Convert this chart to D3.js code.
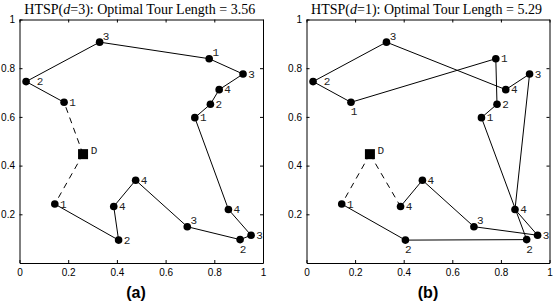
<!DOCTYPE html>
<html><head><meta charset="utf-8">
<script src="https://cdn.jsdelivr.net/npm/d3@7"></script>
<style>body{margin:0;background:#fff}svg{display:block}</style>
</head><body>
<svg id="chart" width="553" height="305"></svg>
<script>
// ---- data ----
const cityX = [0.145,0.407,0.387,0.477,0.689,0.906,0.951,0.858,0.720,0.784,0.820,0.918,0.779,0.329,0.027,0.183];
const cityY = [0.242,0.094,0.232,0.340,0.149,0.096,0.114,0.220,0.597,0.652,0.712,0.776,0.839,0.907,0.745,0.660];
const cityLabel = ["1","2","4","4","3","2","3","4","1","2","4","3","1","3","2","1"];
const depot = {x:0.261, y:0.447, label:"D"};
// tours: city indices (0-based), starting and ending at depot
const tourA = [15,14,13,12,11,10,9,8,7,6,5,4,3,2,1,0];
const tourB = [0,1,5,8,9,12,15,14,13,10,11,7,6,4,3,2];
const titleA = {pre:"HTSP(", d:"d", post:"=3): Optimal Tour Length = 3.56"};
const titleB = {pre:"HTSP(", d:"d", post:"=1): Optimal Tour Length = 5.29"};
const panelNames = ["(a)","(b)"];
const xTicks = [0,0.2,0.4,0.6,0.8,1];
const xTickLabels = ["0","0.2","0.4","0.6","0.8","1"];
const yTicks = [0.2,0.4,0.6,0.8,1];
const yTickLabels = ["0.2","0.4","0.6","0.8","1"];
// label placement (style): e = east, ne = north-east, s = south, ee = far east
const placeA = ["e","e","e","e","ne","s","e","e","e","e","e","e","ne","ne","ee","e"];
const placeB = ["e","s","e","e","ne","s","e","e","e","e","e","e","e","ne","ee","s"];

const off = {e:[8.5,0.5], ne:[6.5,-5.5], s:[3,10], ee:[14,0.5]};
const svg = d3.select("#chart");

function panel(xr, tour, title, name, place, nameX){
  const x = d3.scaleLinear().domain([0,1]).range(xr);
  const y = d3.scaleLinear().domain([0,1]).range([263,19.5]);
  const g = svg.append("g");
  const fmtX = d => xTickLabels[xTicks.indexOf(d)];
  const fmtY = d => yTickLabels[yTicks.indexOf(d)];
  const styleAxis = a => { a.selectAll("path").attr("stroke","#000").attr("stroke-width",1);
    a.selectAll("line").attr("stroke","#000");
    a.selectAll("text").attr("font-family","Liberation Sans, Arial, sans-serif").attr("font-size",10).attr("fill","#000"); };
  g.append("g").attr("transform","translate(0,263)")
    .call(d3.axisBottom(x).tickValues(xTicks).tickFormat(fmtX).tickSizeInner(-3).tickSizeOuter(0).tickPadding(6)).call(styleAxis);
  g.append("g").attr("transform","translate(0,19.5)")
    .call(d3.axisTop(x).tickValues(xTicks).tickFormat("").tickSizeInner(-3).tickSizeOuter(0)).call(styleAxis);
  g.append("g").attr("transform",`translate(${xr[0]},0)`)
    .call(d3.axisLeft(y).tickValues(yTicks).tickFormat(fmtY).tickSizeInner(-3).tickSizeOuter(0).tickPadding(4.5)).call(styleAxis);
  g.append("g").attr("transform",`translate(${xr[1]},0)`)
    .call(d3.axisRight(y).tickValues([0.2,0.4,0.6,0.8]).tickFormat("").tickSizeInner(-3).tickSizeOuter(0)).call(styleAxis);

  const pts = tour.map(i => [x(cityX[i]), y(cityY[i])]);
  const dp = [x(depot.x), y(depot.y)];
  g.append("path").attr("d", d3.line()(pts)).attr("fill","none").attr("stroke","#000").attr("stroke-width",1);
  [pts[0], pts[pts.length-1]].forEach(p=>{
    g.append("path").attr("d", d3.line()([dp,p])).attr("fill","none").attr("stroke","#000")
      .attr("stroke-width",1).attr("stroke-dasharray","6,5");
  });
  g.selectAll("circle.c").data(cityX).join("circle")
    .attr("cx",(d,i)=>x(cityX[i])).attr("cy",(d,i)=>y(cityY[i])).attr("r",3.8).attr("fill","#000");
  g.append("rect").attr("x",dp[0]-5).attr("y",dp[1]-5).attr("width",10).attr("height",10).attr("fill","#000");
  g.selectAll("text.lab").data(cityLabel).join("text").attr("class","lab")
    .attr("x",(d,i)=>x(cityX[i])+off[place[i]][0]).attr("y",(d,i)=>y(cityY[i])+off[place[i]][1])
    .attr("text-anchor","middle").attr("dominant-baseline","central")
    .attr("font-family","Liberation Mono, monospace").attr("font-size",11).attr("fill","#222").text(d=>d);
  g.append("text").attr("x",dp[0]+11).attr("y",dp[1]-3.5).attr("text-anchor","middle").attr("dominant-baseline","central")
    .attr("font-family","Liberation Mono, monospace").attr("font-size",11).attr("fill","#222").text(depot.label);

  const t = g.append("text").attr("x",(xr[0]+xr[1])/2 - 1.5).attr("y",13.5).attr("text-anchor","middle")
    .attr("font-family","Liberation Serif, Times New Roman, serif").attr("font-size",14).attr("fill","#000");
  t.append("tspan").text(title.pre);
  t.append("tspan").attr("font-style","italic").text(title.d);
  t.append("tspan").text(title.post);
  g.append("text").attr("x",nameX).attr("y",298).attr("text-anchor","middle")
    .attr("font-family","Liberation Sans, Arial, sans-serif").attr("font-weight","bold").attr("font-size",16).attr("fill","#000").text(name);
}
panel([19.5,263], tourA, titleA, panelNames[0], placeA, 136);
panel([306.5,549.5], tourB, titleB, panelNames[1], placeB, 428);
</script>
</body></html>
